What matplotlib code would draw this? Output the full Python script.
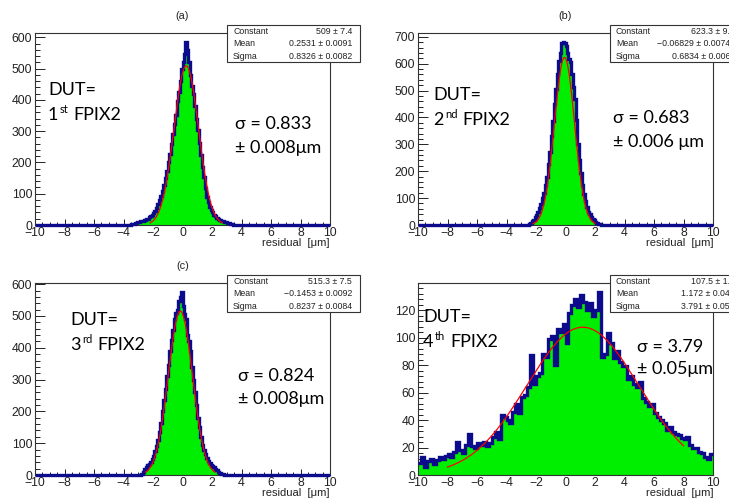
import numpy as np
import matplotlib
matplotlib.use("Agg")
import matplotlib.pyplot as plt
from matplotlib.patches import Rectangle
from matplotlib.ticker import MultipleLocator

W, H = 729, 500

# ----------------------------
# DATOS
# ----------------------------
edges_fine = np.linspace(-10, 10, 201)    # bins de 0.1 um (a, b, c)
edges_coarse = np.linspace(-10, 10, 101)  # bins de 0.2 um (d)

start_a = -3.5
counts_a = [2, 3, 4, 6, 8, 10, 12, 13, 14, 16,
            18, 20, 24, 28, 33, 38, 44, 55, 68, 80,
            92, 110, 128, 150, 172, 200, 228, 258, 292, 322,
            352, 398, 425, 460, 500,
            520, 548, 585, 560, 520, 480, 445, 418, 380, 340,
            305, 262, 225, 185, 155, 118, 90, 72, 58, 48,
            40, 33, 28, 22, 18, 16, 14, 12, 10, 8,
            6, 5, 3, 2, 1]

start_b = -2.5
counts_b = [3, 8, 14, 20, 28, 38, 48, 62, 78, 100,
            120, 150, 180, 225, 272, 330, 385, 450, 505, 560,
            610, 640, 678, 680,
            675, 665, 640, 618, 605, 562, 512, 468, 392, 302,
            242, 192, 150, 115, 88, 66, 50, 40, 31, 24,
            18, 13, 9, 5, 2]

start_c = -2.8
counts_c = [3, 10, 18, 24, 30, 36, 42, 50, 60, 75,
            92, 110, 135, 165, 200, 235, 270, 310, 345, 390,
            425, 455, 490, 510, 520, 548, 560, 575,
            530, 505, 490, 440, 420, 390, 340, 300, 260, 220,
            180, 150, 120, 95, 80, 65, 55, 45, 38, 32,
            28, 24, 20, 15, 10, 7, 4, 2]

counts_d = [9, 13, 6, 10, 12, 8, 11, 13, 12, 14,
            15, 13, 17, 24, 18, 16, 22, 30, 21, 20,
            23, 22, 24, 21, 23, 28, 31, 26, 44, 42,
            40, 38, 46, 52, 45, 57, 58, 64, 87, 66,
            72, 74, 88, 86, 99, 101, 80, 106, 104, 110,
            96, 118, 124, 128, 122, 131, 126, 120, 125, 116,
            120, 133, 86, 88, 103, 96, 85, 90, 82, 79,
            79, 70, 72, 66, 64, 68, 56, 53, 50, 52,
            45, 42, 40, 38, 33, 35, 31, 30, 29, 27,
            26, 28, 22, 20, 20, 17, 16, 13, 12, 15]

# parametros del ajuste gaussiano (Constant, Mean, Sigma) y rango del ajuste
fit_pars = [(509.0, 0.2531, 0.8326),
            (623.3, -0.06829, 0.6834),
            (515.3, -0.1453, 0.8237),
            (107.5, 1.172, 3.791)]
fit_ranges = [(-2.2, 2.7), (-2.2, 2.0), (-2.5, 2.2), (-8.0, 8.0)]

stats_txt = [
    [("Constant", "509 ± 7.4"), ("Mean", "0.2531 ± 0.0091"), ("Sigma", "0.8326 ± 0.0082")],
    [("Constant", "623.3 ± 9.1"), ("Mean", "\u22120.06829 ± 0.00741"), ("Sigma", "0.6834 ± 0.0061")],
    [("Constant", "515.3 ± 7.5"), ("Mean", "\u22120.1453 ± 0.0092"), ("Sigma", "0.8237 ± 0.0084")],
    [("Constant", "107.5 ± 1.5"), ("Mean", "1.172 ± 0.048"), ("Sigma", "3.791 ± 0.051")],
]

titles = ["(a)", "(b)", "(c)", ""]
dut_num = ["1", "2", "3", "4"]
dut_sup = ["st", "nd", "rd", "th"]
sigma_txt = [("σ = 0.833", "± 0.008μm"),
             ("σ = 0.683", "± 0.006 μm"),
             ("σ = 0.824", "± 0.008μm"),
             ("σ = 3.79", "± 0.05μm")]
y_major = [100, 100, 100, 20]
y_minor = [20, 20, 20, 4]


def pad_counts(start, vals, edges):
    full = np.zeros(len(edges) - 1)
    i0 = int(round((start - edges[0]) / (edges[1] - edges[0])))
    full[i0:i0 + len(vals)] = vals
    return full


hists = [(edges_fine, pad_counts(start_a, counts_a, edges_fine)),
         (edges_fine, pad_counts(start_b, counts_b, edges_fine)),
         (edges_fine, pad_counts(start_c, counts_c, edges_fine)),
         (edges_coarse, np.array(counts_d, dtype=float))]

# ----------------------------
# LAYOUT (pixeles)
# ----------------------------
# left, top, right, bottom del frame de cada panel
frames = [(35, 33, 330, 225), (418, 33, 713, 225),
          (35, 283, 330, 475), (418, 283, 713, 475)]
# cajas de estadisticas: left, top, width, height
boxes = [(227, 25, 133, 37), (610, 25, 133, 37),
         (227, 275, 133, 37), (610, 275, 133, 37)]
# posiciones de los textos: DUT (x, baseline1, baseline2), sigma (x, b1, b2)
dut_pos = [(48, 95, 120), (433, 100, 125), (70, 325, 350), (423, 322, 347)]
sig_pos = [(235, 129, 153), (613, 123, 147), (238, 381, 404), (637, 352, 374)]

ROOT_FONT = ["Liberation Sans", "DejaVu Sans"]
ANN_FONT = ["Lato", "DejaVu Sans"]
GREEN = "#00ee00"
NAVY = "#0b0b8c"

fig = plt.figure(figsize=(W / 100, H / 100), dpi=100)


def fx(x):
    return x / W


def fy(y):
    return 1 - y / H


for k in range(4):
    l, t, r, b = frames[k]
    ax = fig.add_axes([fx(l), fy(b), (r - l) / W, (b - t) / H])
    edges, vals = hists[k]

    ax.stairs(vals, edges, fill=True, color=GREEN, baseline=0, zorder=2)
    ax.stairs(vals, edges, color=NAVY, linewidth=2.4, baseline=None,
              zorder=3, clip_on=False)

    c, mu, s = fit_pars[k]
    xf = np.linspace(fit_ranges[k][0], fit_ranges[k][1], 300)
    ax.plot(xf, c * np.exp(-0.5 * ((xf - mu) / s) ** 2), color="red",
            linewidth=0.9, zorder=4)

    ax.set_xlim(-10, 10)
    ax.set_ylim(0, 1.05 * vals.max())
    ax.xaxis.set_major_locator(MultipleLocator(2))
    ax.xaxis.set_minor_locator(MultipleLocator(0.5))
    ax.yaxis.set_major_locator(MultipleLocator(y_major[k]))
    ax.yaxis.set_minor_locator(MultipleLocator(y_minor[k]))
    ax.tick_params(axis="both", which="both", direction="in", top=False,
                   right=False, colors="#222222", labelsize=8.8)
    ax.tick_params(axis="x", which="major", length=4.5, width=0.7, pad=1.5)
    ax.tick_params(axis="x", which="minor", length=2.5, width=0.7)
    ax.tick_params(axis="y", which="major", length=7, width=0.7, pad=2)
    ax.tick_params(axis="y", which="minor", length=3.5, width=0.7)
    for lab in ax.get_xticklabels() + ax.get_yticklabels():
        lab.set_family(ROOT_FONT)
    for sp in ax.spines.values():
        sp.set_linewidth(0.8)
        sp.set_color("#333333")

    ax.text(1.0, -18 / (b - t), "residual  [μm]", transform=ax.transAxes,
            ha="right", va="center", fontsize=8, family=ROOT_FONT,
            color="#222222")
    if titles[k]:
        fig.text(fx((l + r) / 2), fy(t - 17), titles[k], ha="center",
                 va="center", fontsize=7.8, family=ROOT_FONT, color="#222222")

    # caja de estadisticas
    bl, bt, bw, bh = boxes[k]
    fig.patches.append(Rectangle((fx(bl), fy(bt + bh)), bw / W, bh / H,
                                 transform=fig.transFigure, facecolor="white",
                                 edgecolor="#333333", linewidth=0.8,
                                 zorder=10))
    for i, (name, val) in enumerate(stats_txt[k]):
        yy = bt + 6.5 + i * 12.3
        fig.text(fx(bl + 6), fy(yy), name, ha="left", va="center",
                 fontsize=6.3, family=ROOT_FONT, zorder=11, color="#222222")
        fig.text(fx(bl + bw - 8), fy(yy), val, ha="right", va="center",
                 fontsize=6.3, family=ROOT_FONT, zorder=11, color="#222222")

# ----------------------------
# ANOTACIONES
# ----------------------------
fig.canvas.draw()
rend = fig.canvas.get_renderer()

for k in range(4):
    x0, b1, b2 = dut_pos[k]
    fig.text(fx(x0), fy(b1), "DUT=", fontsize=13, family=ANN_FONT,
             va="baseline", color="black")
    x = x0
    t1 = fig.text(fx(x), fy(b2), dut_num[k], fontsize=13, family=ANN_FONT,
                  va="baseline", color="black")
    x += t1.get_window_extent(renderer=rend).width + 1.5
    t2 = fig.text(fx(x), fy(b2 - 7), dut_sup[k], fontsize=8, family=ANN_FONT,
                  va="baseline", color="black")
    x += t2.get_window_extent(renderer=rend).width + 5
    fig.text(fx(x), fy(b2), "FPIX2", fontsize=13, family=ANN_FONT,
             va="baseline", color="black")

    sx, s1, s2 = sig_pos[k]
    fig.text(fx(sx), fy(s1), sigma_txt[k][0], fontsize=13, family=ANN_FONT,
             va="baseline", color="black")
    fig.text(fx(sx), fy(s2), sigma_txt[k][1], fontsize=13, family=ANN_FONT,
             va="baseline", color="black")

fig.savefig("out.png", dpi=100)
